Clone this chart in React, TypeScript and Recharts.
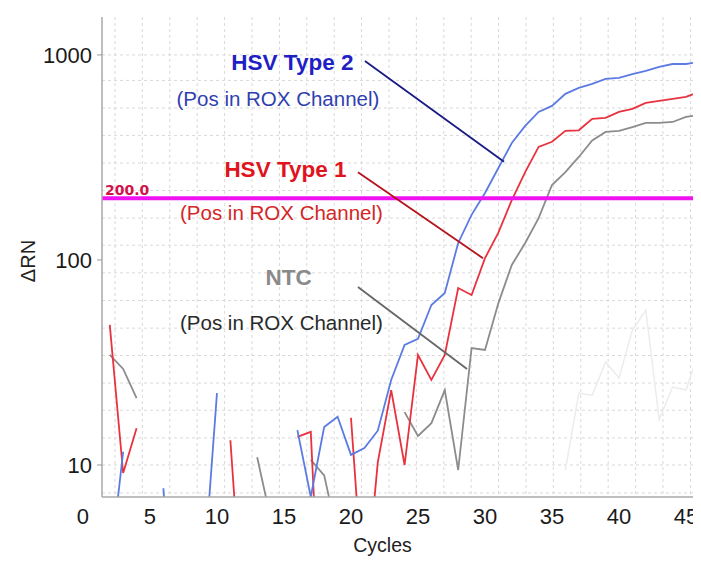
import React from 'react';
import {
  LineChart,
  Line,
  XAxis,
  YAxis,
  CartesianGrid,
  ReferenceLine,
  ReferenceDot,
} from 'recharts';

const CYCLES = [
  1, 2, 3, 4, 5, 6, 7, 8, 9, 10, 11, 12, 13, 14, 15, 16, 17, 18, 19, 20, 21, 22, 23,
  24, 25, 26, 27, 28, 29, 30, 31, 32, 33, 34, 35, 36, 37, 38, 39, 40, 41, 42, 43, 44,
  45, 46,
];

// HSV Type 2 (blue)
const HSV2 = [
  null, 3.1, 11.6, null, null, 7.7, 1, null, 2.9, 22.4, null, null, null, null, null,
  14.8, 7.0, 15.3, 17.2, 11.2, 12.1, 14.7, 26, 38.5, 41.2, 60.3, 69, 121, 166, 212,
  281, 372, 451, 527, 564, 646, 690, 722, 764, 772, 807, 835, 874, 903, 903, 925,
];

// HSV Type 1 (red)
const HSV1 = [
  null, 48.2, 9.14, 15.1, null, null, null, null, null, null, 13.2, 1.5, null, null,
  null, 13.7, 14.5, 0.6, null, 17.0, 2.0, 10.3, 23.2, 10, 34.4, 26, 34.4, 73, 67.5,
  102, 136, 196, 268, 356, 377, 426, 429, 488, 493, 527, 546, 583, 597, 610, 624, 661,
];

// NTC (grey)
const NTC = [
  null, 34.4, 29.4, 21.2, null, null, null, null, null, null, null, null, 10.9, 5.5,
  null, null, 10.6, 8.9, 4.5, null, null, null, null, 18.1, 13.85, 16.0, 23.2, 9.45,
  37.2, 36.4, 61.6, 94.5, 121, 160, 232, 268, 318, 383, 421, 426, 445, 466, 466, 471,
  499, 510,
];

// faint background well
const FAINT = [
  null, null, null, null, null, null, null, null, null, null, null, null, null, null,
  null, null, null, null, null, null, null, null, null, null, null, null, null, null,
  null, null, null, null, null, null, null, 9.45, 22.4, 21.9, 31.8, 26.6, 45.5, 57,
  16.6, 24.0, 23.2, 36.4,
];

const X_TICKS = [0, 5, 10, 15, 20, 25, 30, 35, 40, 45];
const Y_TICKS = [10, 100, 1000];
const X_DOMAIN = [1.42, 46.12];
const Y_DOMAIN = [6.98, 1531];
const THRESHOLD = 200;

const GRID_X = [
  2.39, 4.43, 6.48, 8.52, 10.57, 12.61, 14.66, 16.7, 18.75, 20.79, 22.84, 24.88, 26.93,
  28.97, 31.01, 33.06, 35.1, 37.15, 39.19, 41.24, 43.28, 45.33,
];
const GRID_Y = [
  1000, 751, 551, 405, 297, 218, 160, 118, 86.5, 63.4, 46.5, 34.2, 25.1, 18.5, 13.55,
  10, 7.3,
];

const LABELS = [
  { text: 'HSV Type 2', cycle: 15.63, value: 845, color: '#1f1fc4', bold: true },
  { text: '(Pos in ROX Channel)', cycle: 14.55, value: 564, color: '#2f3fb0', bold: false },
  { text: 'HSV Type 1', cycle: 15.11, value: 254, color: '#e0141c', bold: true },
  { text: '(Pos in ROX Channel)', cycle: 14.81, value: 157, color: '#d42626', bold: false },
  { text: 'NTC', cycle: 15.34, value: 75.5, color: '#8a8a8a', bold: true },
  { text: '(Pos in ROX Channel)', cycle: 14.81, value: 45.6, color: '#2a2a2a', bold: false },
];

const POINTERS = [
  { from: [21.04, 935], to: [31.42, 301], color: '#1a1a85' },
  { from: [20.52, 268], to: [29.85, 102], color: '#b5121b' },
  { from: [20.52, 73.8], to: [28.66, 29.4], color: '#666666' },
];

const FONT = '"Liberation Sans", Arial, Helvetica, sans-serif';

const data = CYCLES.map((c, i) => ({
  cycle: c,
  hsv2: HSV2[i],
  hsv1: HSV1[i],
  ntc: NTC[i],
  faint: FAINT[i],
}));

const YTitle = (props: any) => {
  const vb = props.viewBox || {};
  const x = vb.x + 20;
  const y = vb.y + vb.height / 2 + 4;
  return (
    <text
      x={x}
      y={y}
      transform={`rotate(-90, ${x}, ${y})`}
      textAnchor="middle"
      dominantBaseline="central"
      fontSize={20}
      fill="#222"
      fontFamily={FONT}
    >
      ΔRN
    </text>
  );
};

const XTitle = (props: any) => {
  const vb = props.viewBox || {};
  const x = vb.x + vb.width / 2 - 19;
  const y = vb.y + vb.height - 5;
  return (
    <text x={x} y={y} textAnchor="middle" fontSize={19.5} fill="#222" fontFamily={FONT}>
      Cycles
    </text>
  );
};

export default function App() {
  return (
    <div style={{ width: 693, height: 550, fontFamily: FONT }}>
      <LineChart
        width={693}
        height={550}
        data={data}
        margin={{ top: 9, right: 0, bottom: 1, left: 0 }}
      >
        <CartesianGrid
          stroke="#d9d9d9"
          strokeDasharray="3 3"
          verticalValues={GRID_X}
          horizontalValues={GRID_Y}
        />
        <XAxis
          xAxisId="minor"
          type="number"
          dataKey="cycle"
          domain={X_DOMAIN}
          allowDataOverflow
          ticks={GRID_X}
          interval={0}
          tick={false}
          axisLine={false}
          tickLine={{ stroke: '#aaa' }}
          tickSize={5}
          height={0}
        />
        <XAxis
          type="number"
          dataKey="cycle"
          domain={X_DOMAIN}
          allowDataOverflow
          ticks={X_TICKS}
          interval={0}
          tickLine={false}
          tickSize={6}
          tickMargin={5}
          axisLine={{ stroke: '#a8a8a8', strokeWidth: 1.5 }}
          tick={{ fontSize: 22, fill: '#1a1a1a', fontFamily: FONT }}
          height={60}
          label={{ content: XTitle }}
        />
        <XAxis
          xAxisId="top"
          orientation="top"
          type="number"
          dataKey="cycle"
          domain={X_DOMAIN}
          allowDataOverflow
          tick={false}
          tickLine={false}
          axisLine={{ stroke: '#cfcfcf', strokeWidth: 1.5 }}
          height={0}
        />
        <YAxis
          type="number"
          scale="log"
          domain={Y_DOMAIN}
          allowDataOverflow
          ticks={Y_TICKS}
          interval={0}
          width={94}
          tickSize={5}
          tickMargin={5}
          tickLine={{ stroke: '#999' }}
          axisLine={{ stroke: '#a8a8a8', strokeWidth: 1.5 }}
          tick={{ fontSize: 22, fill: '#1a1a1a', fontFamily: FONT }}
          label={{ content: YTitle }}
        />
        <Line
          dataKey="faint"
          stroke="#ececec"
          strokeWidth={1.5}
          dot={false}
          isAnimationActive={false}
          connectNulls={false}
        />
        <Line
          dataKey="ntc"
          stroke="#8c8c8c"
          strokeWidth={1.8}
          dot={false}
          isAnimationActive={false}
          connectNulls={false}
        />
        <Line
          dataKey="hsv1"
          stroke="#e8333f"
          strokeWidth={1.8}
          dot={false}
          isAnimationActive={false}
          connectNulls={false}
        />
        <Line
          dataKey="hsv2"
          stroke="#5b7be3"
          strokeWidth={1.8}
          dot={false}
          isAnimationActive={false}
          connectNulls={false}
        />
        <ReferenceLine
          y={THRESHOLD}
          stroke="#f012f0"
          strokeWidth={4}
          label={{
            value: '200.0',
            position: 'insideBottomLeft',
            offset: 3,
            fill: '#d0124a',
            fontSize: 14,
            fontWeight: 'bold',
            fontFamily: '"DejaVu Sans", sans-serif',
          }}
        />
        {POINTERS.map((p, i) => (
          <ReferenceLine
            key={`p${i}`}
            segment={[
              { x: p.from[0], y: p.from[1] },
              { x: p.to[0], y: p.to[1] },
            ]}
            stroke={p.color}
            strokeWidth={1.8}
            ifOverflow="visible"
          />
        ))}
        {LABELS.map((l, i) => (
          <ReferenceDot
            key={`l${i}`}
            x={l.cycle}
            y={l.value}
            r={0}
            ifOverflow="visible"
            shape={(props: any) => (
              <text
                x={props.cx}
                y={props.cy}
                textAnchor="middle"
                fill={l.color}
                fontSize={l.bold ? 22.5 : 20.5}
                fontWeight={l.bold ? 'bold' : 'normal'}
                fontFamily={FONT}
              >
                {l.text}
              </text>
            )}
          />
        ))}
      </LineChart>
    </div>
  );
}
